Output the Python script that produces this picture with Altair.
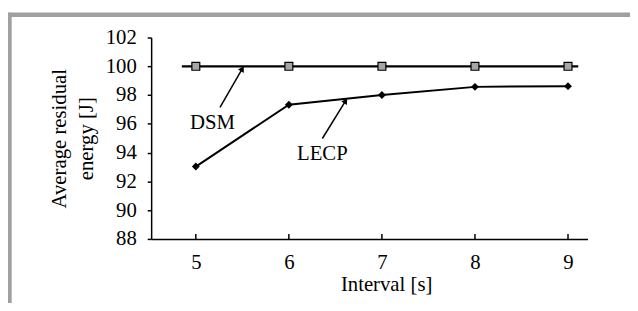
import altair as alt
import pandas as pd

intervals = [5, 6, 7, 8, 9]
dsm_values = [100, 100, 100, 100, 100]
lecp_values = [93.03, 97.33, 98.0, 98.57, 98.62]
dsm_line_x = [4.85, 9.11]
y_ticks = [88, 90, 92, 94, 96, 98, 100, 102]
labels = ["DSM", "LECP"]
label_x = [5.18, 6.36]
label_y = [96.05, 93.9]
arrow_x = [5.26, 6.36]
arrow_y = [97.15, 94.98]
arrow_x2 = [5.50, 6.61]
arrow_y2 = [99.83, 97.6]
arrow_angle = [30, 32]

FONT = "Liberation Serif"
W, H = 442, 204

xs = alt.Scale(domain=[4.52, 9.21], nice=False, zero=False)
ys = alt.Scale(domain=[88, 102], nice=False, zero=False)

df_dsm = pd.DataFrame({"x": intervals, "y": dsm_values})
df_dsm_line = pd.DataFrame({"x": dsm_line_x, "y": [dsm_values[0]] * 2})
df_lecp = pd.DataFrame({"x": intervals, "y": lecp_values})
df_lab = pd.DataFrame({"x": label_x, "y": label_y, "t": labels})
df_arr = pd.DataFrame({"x": arrow_x, "y": arrow_y, "x2": arrow_x2, "y2": arrow_y2, "a": arrow_angle})
one = pd.DataFrame({"a": [0]})

xaxis = alt.Axis(values=intervals, format="d", ticks=False, grid=False, labelPadding=13,
                 title="Interval [s]", titleX=238, titlePadding=1)
yaxis = alt.Axis(values=y_ticks, format="d", grid=False, tickSize=4, labelPadding=11,
                 title=["Average residual", "energy [J]"], titleLineHeight=27, titlePadding=9)


def X(f):
    return alt.X(f, type="quantitative", scale=xs, axis=xaxis)


def Y(f):
    return alt.Y(f, type="quantitative", scale=ys, axis=yaxis)


lecp_line = alt.Chart(df_lecp).mark_line(color="black", strokeWidth=2).encode(x=X("x"), y=Y("y"))
lecp_pts = alt.Chart(df_lecp).mark_point(shape="diamond", filled=True, color="black", size=64, opacity=1).encode(
    x=X("x"), y=Y("y"))
dsm_line = alt.Chart(df_dsm_line).mark_line(color="black", strokeWidth=2.2).encode(x=X("x"), y=Y("y"))
dsm_pts = alt.Chart(df_dsm).mark_point(shape="square", filled=True, fill="#a6a6a6", stroke="black",
                                         strokeWidth=1.2, size=64, opacity=1).encode(x=X("x"), y=Y("y"))

xticks = alt.Chart(pd.DataFrame({"x": intervals})).mark_rule(color="black", strokeWidth=1.5).encode(
    x=X("x"), y=alt.value(H), y2=alt.value(H - 5))

arrows = alt.Chart(df_arr).mark_rule(color="black", strokeWidth=1.5).encode(
    x=X("x"), y=Y("y"), x2="x2:Q", y2="y2:Q")
heads = alt.Chart(df_arr).mark_point(shape="triangle-up", filled=True, color="black", size=45, opacity=1).encode(
    x=X("x2"), y=Y("y2"), angle=alt.Angle("a:Q", scale=None))

texts = alt.Chart(df_lab).mark_text(font=FONT, fontSize=21, color="black").encode(
    x=X("x"), y=Y("y"), text="t:N")

frame_top = alt.Chart(one).mark_rule(color="#a0a0a0", strokeWidth=4.5).encode(
    x=alt.value(-146), x2=alt.value(485), y=alt.value(-23))
frame_left = alt.Chart(one).mark_rule(color="#a0a0a0", strokeWidth=4.5).encode(
    x=alt.value(-143.5), y=alt.value(-25), y2=alt.value(275))

chart = alt.layer(lecp_line, dsm_line, xticks, arrows, heads, lecp_pts, dsm_pts, texts, frame_top, frame_left).properties(
    width=W, height=H,
    autosize=alt.AutoSizeParams(type="none"),
    padding={"left": 145, "top": 28, "right": 43, "bottom": 63},
).configure_view(stroke=None).configure_axis(
    domainColor="black", domainWidth=1.5, tickColor="black", tickWidth=1.5,
    labelFont=FONT, labelFontSize=21, labelColor="black", labelOverlap=False,
    titleFont=FONT, titleFontSize=21, titleFontWeight="normal", titleColor="black",
)

chart.save("out.html", embed_options={"renderer": "svg", "actions": False})
